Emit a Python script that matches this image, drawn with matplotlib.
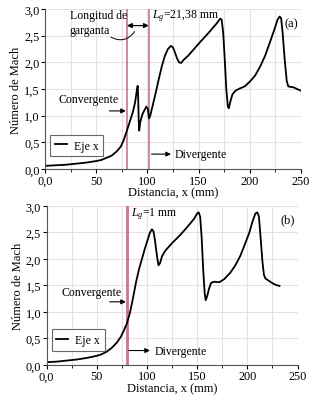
import matplotlib
matplotlib.use("Agg")
import matplotlib.pyplot as plt
from matplotlib.ticker import MultipleLocator, FuncFormatter

plt.rcParams['font.family'] = ['Liberation Serif', 'DejaVu Serif']
plt.rcParams['font.size'] = 8.5
plt.rcParams['mathtext.fontset'] = 'custom'
plt.rcParams['mathtext.rm'] = 'Liberation Serif'
plt.rcParams['mathtext.it'] = 'Liberation Serif:italic'

# ---- data (a) ----
xa = [0, 10, 20, 30, 40, 50, 55, 60, 65, 70, 74, 77, 80, 83, 86, 88, 89.5, 90.5, 91, 91.5,
      92, 93, 95, 97, 99, 100.5, 101.5, 102.5, 105, 108, 111, 114, 117, 120, 123, 125, 127,
      129, 131, 133, 135, 140, 150, 160, 168, 171, 172.5, 174, 175.5, 177, 178.5, 179.5,
      181, 183, 186, 190, 195, 200, 205, 210, 215, 220, 224, 227, 229, 230.5, 232, 234,
      236, 237.5, 240, 243, 246, 250]
ya = [0.06, 0.07, 0.08, 0.10, 0.12, 0.15, 0.17, 0.21, 0.25, 0.33, 0.42, 0.55, 0.72, 0.90,
      1.08, 1.25, 1.45, 1.56, 1.35, 0.90, 0.72, 0.88, 1.02, 1.10, 1.17, 1.12, 0.95, 0.98,
      1.18, 1.42, 1.68, 1.92, 2.12, 2.25, 2.31, 2.28, 2.18, 2.07, 2.00, 1.99, 2.04, 2.13,
      2.35, 2.56, 2.74, 2.82, 2.80, 2.55, 2.05, 1.50, 1.17, 1.14, 1.27, 1.40, 1.47, 1.51,
      1.55, 1.64, 1.75, 1.92, 2.13, 2.40, 2.62, 2.80, 2.86, 2.83, 2.55, 2.05, 1.65, 1.55,
      1.54, 1.53, 1.50, 1.47]

# ---- data (b) ----
xb = [0, 10, 20, 30, 40, 50, 55, 60, 65, 70, 74, 77, 80, 83, 86, 89, 92, 95, 98, 101, 103,
      105, 106.5, 108, 110, 111.5, 113, 115, 118, 125, 133, 140, 147, 150, 151.5, 153, 154.5,
      156, 157.5, 158.5, 160, 162, 164, 167, 172, 177, 183, 188, 193, 198, 202, 205, 208,
      210, 211.5, 213, 215, 216.5, 218, 222, 226, 230, 232]
yb = [0.05, 0.06, 0.08, 0.10, 0.13, 0.17, 0.20, 0.25, 0.32, 0.42, 0.53, 0.65, 0.78, 0.98,
      1.25, 1.55, 1.80, 2.00, 2.20, 2.38, 2.50, 2.56, 2.52, 2.35, 2.05, 1.88, 1.92, 2.05,
      2.15, 2.30, 2.45, 2.60, 2.76, 2.86, 2.88, 2.80, 2.40, 1.80, 1.35, 1.22, 1.30, 1.45,
      1.55, 1.57, 1.56, 1.62, 1.74, 1.88, 2.06, 2.30, 2.50, 2.70, 2.86, 2.88, 2.80, 2.45,
      1.95, 1.70, 1.63, 1.58, 1.53, 1.50, 1.49]

throat_a = [80.0, 101.38]
throat_b = [80.0, 81.0]

fig = plt.figure(figsize=(3.21, 4.02), dpi=100)
ax1 = fig.add_axes([0.140, 0.577, 0.798, 0.398])
ax2 = fig.add_axes([0.145, 0.090, 0.782, 0.395])

comma = FuncFormatter(lambda v, p: f"{v:.1f}".replace('.', ','))
xfmt = FuncFormatter(lambda v, p: ("0,0" if v == 0 else f"{int(v)}"))

grid_col = '#e8e0e3'
red = '#c47a84'

def style(ax):
    ax.set_xlim(0, 250)
    ax.set_ylim(0, 3.0)
    ax.xaxis.set_major_locator(MultipleLocator(50))
    ax.xaxis.set_minor_locator(MultipleLocator(25))
    ax.yaxis.set_major_locator(MultipleLocator(0.5))
    ax.xaxis.set_major_formatter(xfmt)
    ax.yaxis.set_major_formatter(comma)
    ax.grid(True, which='both', color=grid_col, lw=0.8)
    ax.set_axisbelow(True)
    for s in ['top', 'right']:
        ax.spines[s].set_visible(False)
    ax.spines['left'].set_color('#555555')
    ax.spines['bottom'].set_color('#555555')
    ax.tick_params(which='major', direction='out', length=3, pad=1, labelsize=8.8)
    ax.tick_params(which='minor', length=2)
    ax.set_xlabel('Distancia, x (mm)', fontsize=9, labelpad=0)
    ax.set_ylabel('Número de Mach', fontsize=9, labelpad=1)

for ax in (ax1, ax2):
    style(ax)

# ---- (a) ----
for xv in throat_a:
    ax1.axvline(xv, color=red, lw=1.2)
ax1.plot(xa, ya, color='black', lw=1.3, label='Eje x')
ax1.annotate('', xy=(throat_a[0], 2.69), xytext=(throat_a[1], 2.69),
             arrowprops=dict(arrowstyle='<|-|>', color='black', lw=0.9, mutation_scale=7,
                             shrinkA=0, shrinkB=0))
ax1.text(24, 2.88, 'Longitud de', ha='left', va='center')
ax1.text(24, 2.60, 'garganta', ha='left', va='center')
ax1.annotate('', xy=(89, 2.62), xytext=(62, 2.50),
             arrowprops=dict(arrowstyle='-', color='black', lw=0.7,
                             connectionstyle='arc3,rad=0.5'))
ax1.text(104, 2.89, r'$L_g$=21,38 mm', ha='left', va='center')
ax1.text(234, 2.74, '(a)', ha='left', va='center', fontsize=9)
ax1.text(43, 1.31, 'Convergente', ha='center', va='center')
ax1.annotate('', xy=(79, 1.09), xytext=(63, 1.09),
             arrowprops=dict(arrowstyle='-|>', color='black', lw=0.8, mutation_scale=7,
                             shrinkA=0, shrinkB=0))
ax1.annotate('', xy=(123, 0.28), xytext=(104, 0.28),
             arrowprops=dict(arrowstyle='-|>', color='black', lw=0.8, mutation_scale=7,
                             shrinkA=0, shrinkB=0))
ax1.text(127, 0.28, 'Divergente', ha='left', va='center')
leg1 = ax1.legend(loc='lower left', bbox_to_anchor=(0.02, 0.08), fontsize=8.5,
                  frameon=True, fancybox=False, handlelength=1.0, handletextpad=0.6,
                  borderpad=0.4, borderaxespad=0)
leg1.get_frame().set_edgecolor('#444444')
leg1.get_frame().set_linewidth(0.8)

# ---- (b) ----
for xv in throat_b:
    ax2.axvline(xv, color=red, lw=1.3)
ax2.plot(xb, yb, color='black', lw=1.3, label='Eje x')
ax2.text(84, 2.86, r'$L_g$=1 mm', ha='left', va='center')
ax2.text(233, 2.75, '(b)', ha='left', va='center', fontsize=9)
ax2.text(45, 1.38, 'Convergente', ha='center', va='center')
ax2.annotate('', xy=(79, 1.19), xytext=(63, 1.19),
             arrowprops=dict(arrowstyle='-|>', color='black', lw=0.8, mutation_scale=7,
                             shrinkA=0, shrinkB=0))
ax2.annotate('', xy=(103, 0.27), xytext=(82, 0.27),
             arrowprops=dict(arrowstyle='-|>', color='black', lw=0.8, mutation_scale=7,
                             shrinkA=0, shrinkB=0))
ax2.text(108, 0.27, 'Divergente', ha='left', va='center')
leg2 = ax2.legend(loc='lower left', bbox_to_anchor=(0.02, 0.09), fontsize=8.5,
                  frameon=True, fancybox=False, handlelength=1.0, handletextpad=0.6,
                  borderpad=0.4, borderaxespad=0)
leg2.get_frame().set_edgecolor('#444444')
leg2.get_frame().set_linewidth(0.8)

fig.savefig('out.png', dpi=100)
